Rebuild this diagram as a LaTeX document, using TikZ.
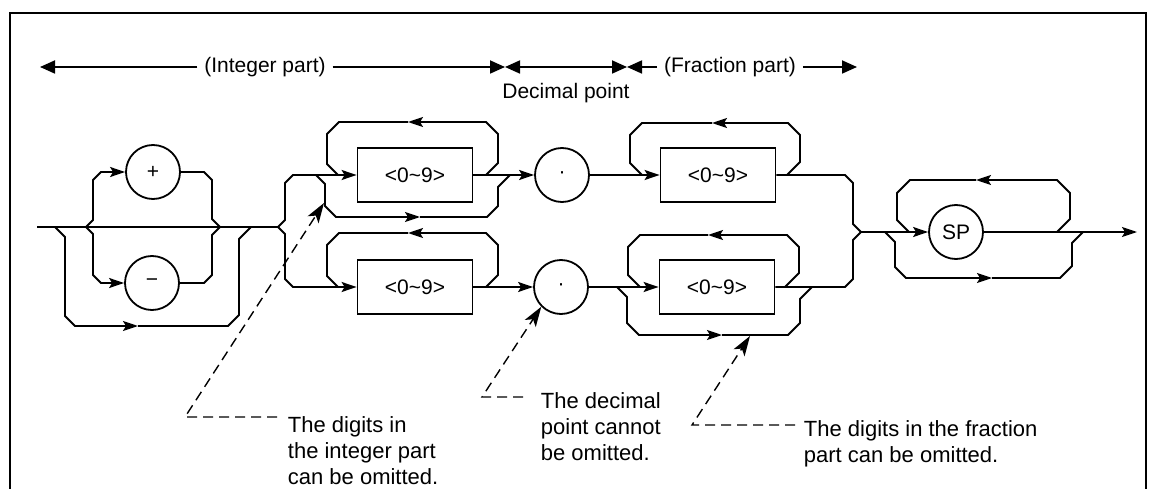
\documentclass[tikz,border=0pt]{standalone}
\usepackage{fontspec}
\setmainfont{Liberation Sans}
\usetikzlibrary{arrows.meta}
\begin{document}
\begin{tikzpicture}[x=1pt,y=-1pt, line width=1.8pt, line join=miter,
  every node/.style={font=\fontsize{21}{26}\selectfont},
  arr/.style={-{Stealth[length=15pt,width=10pt,inset=3pt]}},
  bigtip/.style={-{Triangle[length=15pt,width=13pt]}},
  circ/.style={circle,draw,minimum size=54pt,inner sep=0pt},
  boxn/.style={rectangle,draw,minimum width=115pt,minimum height=54pt,inner sep=0pt},
  dsh/.style={dash pattern=on 10pt off 6pt, line width=1.4pt},
  dtip/.style={-{Stealth[length=20pt,width=13pt,inset=5pt]}},
  ann/.style={align=left,anchor=west,inner sep=0pt,font=\fontsize{22}{26}\selectfont},
  dimlbl/.style={inner sep=6pt}]
\useasboundingbox (0,0) rectangle (1150,489);
% frame
\coordinate (fBL) at (10,489);
\coordinate (fTL) at (10,13);
\coordinate (fTR) at (1146,13);
\coordinate (fBR) at (1146,489);
\draw (fBL) -- (fTL) -- (fTR) -- (fBR);
% dimension line
\node[dimlbl] (intlbl) at (265,67) {(Integer part)};
\node[dimlbl] (declbl) at (566,93) {Decimal point};
\node[dimlbl] (fraclbl) at (730,67) {(Fraction part)};
\coordinate (dL) at (40,67);
\coordinate (dA) at (505,67);
\coordinate (dB) at (627,67);
\coordinate (dR) at (857,67);
\draw[bigtip] (intlbl.west) -- (dL);
\draw[bigtip] (intlbl.east) -- (dA);
\draw[{Triangle[length=15pt,width=13pt]}-{Triangle[length=15pt,width=13pt]}] (dA) -- (dB);
\draw[bigtip] (fraclbl.west) -- (dB);
\draw[bigtip] (fraclbl.east) -- (dR);
% sign part
\coordinate (s0) at (37,227);
\coordinate (j1) at (55,227);
\coordinate (j2) at (86,227);
\coordinate (j3) at (220,227);
\coordinate (j4) at (251,227);
\coordinate (j5) at (278,227);
\node[circ] (plus) at (153,172) {+};
\node[circ] (minus) at (152,283) {−};
\draw (s0) -- (j5);
\draw[arr] (j2) -- (93,220) -- (93,180) -- (101,172) -- (plus.west);
\draw (plus.east) -- (204,172) -- (212,180) -- (212,219) -- (j3);
\draw[arr] (j2) -- (93,234) -- (93,275) -- (101,283) -- (minus.west);
\draw (minus.east) -- (204,283) -- (212,275) -- (212,235) -- (j3);
\coordinate (a1) at (138,326);
\draw[arr] (j1) -- (65,237) -- (65,316) -- (75,326) -- (a1);
\draw (a1) -- (228,326) -- (239,315) -- (239,239) -- (j4);
% integer digits
\node[boxn] (b1) at (415,175) {<0\textasciitilde 9>};
\node[boxn] (b2) at (415,287) {<0\textasciitilde 9>};
\node[circ] (d1) at (562,175) {\raisebox{-0.12em}{·}};
\node[circ] (d2) at (561,287) {\raisebox{-0.12em}{·}};
\draw[arr] (j5) -- (285,220) -- (285,183) -- (293,175) -- (b1.west);
\coordinate (l1) at (408,122);
\draw[arr] (486,175) -- (498,163) -- (498,134) -- (486,122) -- (l1);
\draw (l1) -- (339,122) -- (327,134) -- (327,164) -- (338,175);
\coordinate (l2) at (420,217);
\draw[arr] (316,175) -- (325,184) -- (325,206) -- (336,217) -- (l2);
\draw (l2) -- (487,217) -- (498,206) -- (498,187) -- (510,175);
\draw[arr] (b1.east) -- (d1.west);
\draw[arr] (j5) -- (285,234) -- (285,279) -- (293,287) -- (b2.west);
\coordinate (l3) at (408,233);
\draw[arr] (486,287) -- (498,275) -- (498,245) -- (486,233) -- (l3);
\draw (l3) -- (339,233) -- (327,245) -- (327,276) -- (338,287);
\draw[arr] (b2.east) -- (d2.west);
% fraction digits
\node[boxn] (b3) at (718,175) {<0\textasciitilde 9>};
\node[boxn] (b4) at (717,287) {<0\textasciitilde 9>};
\coordinate (j6) at (861,232);
\draw[arr] (d1.east) -- (b3.west);
\coordinate (l4) at (712,123);
\draw[arr] (787,175) -- (800,162) -- (800,135) -- (788,123) -- (l4);
\draw (l4) -- (642,123) -- (630,135) -- (630,163) -- (642,175);
\draw (b3.east) -- (845,175) -- (853,183) -- (853,224) -- (j6);
\draw[arr] (d2.east) -- (b4.west);
\coordinate (l5) at (708,235);
\draw[arr] (785,287) -- (799,273) -- (799,247) -- (787,235) -- (l5);
\draw (l5) -- (640,235) -- (628,247) -- (628,275) -- (640,287);
\coordinate (l6) at (722,335);
\draw[arr] (617,287) -- (627,297) -- (627,323) -- (639,335) -- (l6);
\draw (l6) -- (788,335) -- (800,323) -- (800,299) -- (812,287);
\draw (b4.east) -- (845,287) -- (853,279) -- (853,240) -- (j6);
% SP
\node[circ] (sp) at (956,232) {SP};
\coordinate (e0) at (1137,232);
\draw[arr] (j6) -- (sp.west);
\draw[arr] (sp.east) -- (e0);
\coordinate (l7) at (976,180);
\draw[arr] (1057,232) -- (1070,219) -- (1070,193) -- (1057,180) -- (l7);
\draw (l7) -- (910,180) -- (897,193) -- (897,220) -- (909,232);
\coordinate (l8) at (992,278);
\draw[arr] (885,232) -- (895,242) -- (895,267) -- (906,278) -- (l8);
\draw (l8) -- (1060,278) -- (1072,266) -- (1072,243) -- (1083,232);
% annotations
\node[ann] (t1) at (287,451) {The digits in\\the integer part\\can be omitted.};
\node[ann] (t2) at (540,427) {The decimal\\point cannot\\be omitted.};
\node[ann] (t3) at (803,444) {The digits in the fraction\\part can be omitted.};
\coordinate (c1) at (277,417);
\coordinate (c1b) at (185,417);
\coordinate (p1) at (324,203);
\draw[dsh,dtip] (c1) -- (c1b) -- (p1);
\coordinate (c2) at (523,397);
\coordinate (c2b) at (482,397);
\draw[dsh,dtip] (c2) -- (c2b) -- (d2.south west);
\coordinate (c3) at (795,425);
\coordinate (c3b) at (692,425);
\coordinate (p3) at (750,336);
\draw[dsh,dtip] (c3) -- (c3b) -- (p3);
\end{tikzpicture}
\end{document}
